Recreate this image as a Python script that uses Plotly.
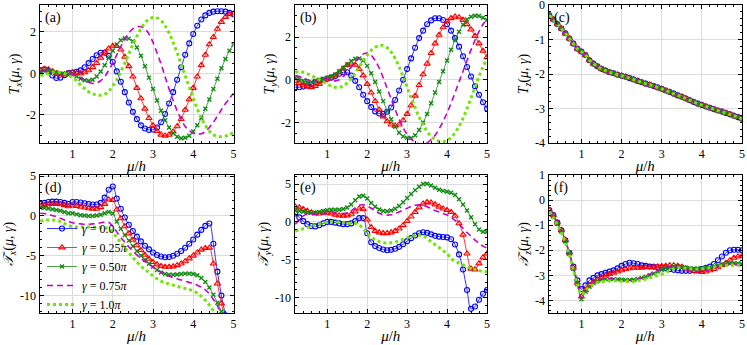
import plotly.graph_objects as go
from plotly.subplots import make_subplots

# mu/h sample points
mu = [0.2, 0.3, 0.4, 0.5, 0.6, 0.7, 0.8, 0.9, 1.0, 1.1, 1.2, 1.3, 1.4, 1.5, 1.6, 1.7,
      1.8, 1.9, 2.0, 2.1, 2.2, 2.3, 2.4, 2.5, 2.6, 2.7, 2.8, 2.9, 3.0, 3.1, 3.2, 3.3,
      3.4, 3.5, 3.6, 3.7, 3.8, 3.9, 4.0, 4.1, 4.2, 4.3, 4.4, 4.5, 4.6, 4.7, 4.8, 4.9, 5.0]

gamma_labels = ["<i>γ</i> = 0.0", "<i>γ</i> = 0.25<i>π</i>", "<i>γ</i> = 0.50<i>π</i>",
                "<i>γ</i> = 0.75<i>π</i>", "<i>γ</i> = 1.0<i>π</i>"]

# (a) T_x
tx_a = [
    [0.15, 0.2, 0.12, -0.1, -0.22, -0.2, -0.08, 0.02, 0.05, 0.08, 0.15, 0.3, 0.5, 0.7, 0.88, 1.0,
     1.0, 0.85, 0.55, 0.1, -0.4, -0.9, -1.4, -1.85, -2.2, -2.5, -2.65, -2.72, -2.7, -2.6, -2.35, -1.95,
     -1.45, -0.9, -0.3, 0.3, 0.9, 1.45, 1.9, 2.3, 2.6, 2.8, 2.92, 2.98, 3.0, 3.0, 2.98, 2.92, 2.85],
    [0.15, 0.22, 0.2, 0.1, 0.0, -0.05, -0.05, 0.0, 0.05, 0.02, 0.0, 0.05, 0.15, 0.3, 0.5, 0.75,
     1.0, 1.2, 1.33, 1.32, 1.15, 0.8, 0.35, -0.15, -0.7, -1.2, -1.7, -2.15, -2.5, -2.78, -2.95, -3.0,
     -2.95, -2.8, -2.55, -2.2, -1.75, -1.25, -0.7, -0.15, 0.4, 0.9, 1.4, 1.75, 2.15, 2.48, 2.72, 2.85, 2.9],
    [0.1, 0.15, 0.15, 0.1, 0.05, 0.0, -0.02, -0.05, -0.05, -0.15, -0.25, -0.33, -0.35, -0.3, -0.15, 0.1,
     0.4, 0.75, 1.1, 1.4, 1.6, 1.7, 1.68, 1.55, 1.25, 0.85, 0.35, -0.2, -0.75, -1.3, -1.8, -2.25,
     -2.6, -2.88, -3.05, -3.12, -3.1, -3.0, -2.8, -2.5, -2.15, -1.7, -1.25, -0.75, -0.25, 0.25, 0.7, 1.1, 1.4],
    [0.1, 0.12, 0.1, 0.05, 0.0, 0.0, -0.02, -0.05, -0.05, -0.1, -0.2, -0.32, -0.42, -0.48, -0.45, -0.35,
     -0.15, 0.15, 0.5, 0.9, 1.3, 1.65, 1.95, 2.15, 2.25, 2.25, 2.15, 1.9, 1.5, 1.0, 0.45, -0.15,
     -0.75, -1.3, -1.8, -2.2, -2.55, -2.75, -2.88, -2.92, -2.9, -2.8, -2.6, -2.35, -2.05, -1.75, -1.45, -1.2, -0.95],
    [-0.1, -0.05, 0.0, 0.05, 0.08, 0.05, 0.0, -0.1, -0.2, -0.35, -0.55, -0.72, -0.88, -0.98, -1.04, -1.05,
     -1.0, -0.85, -0.6, -0.3, 0.1, 0.5, 0.95, 1.4, 1.8, 2.15, 2.45, 2.62, 2.7, 2.68, 2.55, 2.3,
     1.95, 1.5, 1.0, 0.45, -0.1, -0.65, -1.2, -1.7, -2.15, -2.5, -2.78, -2.95, -3.03, -3.05, -3.02, -2.95, -2.85],
]

# (b) T_y
ty_b = [
    [-0.35, -0.35, -0.32, -0.27, -0.2, -0.12, -0.05, 0.0, 0.05, 0.1, 0.18, 0.28, 0.35, 0.35, 0.2, -0.05,
     -0.35, -0.7, -1.0, -1.28, -1.48, -1.58, -1.6, -1.5, -1.3, -0.95, -0.5, 0.0, 0.5, 1.0, 1.5, 1.95,
     2.3, 2.6, 2.78, 2.88, 2.88, 2.8, 2.6, 2.3, 1.95, 1.55, 1.1, 0.6, 0.15, -0.3, -0.7, -1.05, -1.35],
    [-0.05, -0.15, -0.25, -0.32, -0.35, -0.3, -0.2, -0.05, 0.05, 0.1, 0.2, 0.35, 0.52, 0.68, 0.75, 0.7,
     0.5, 0.2, -0.2, -0.6, -1.0, -1.4, -1.72, -1.95, -2.1, -2.15, -2.1, -1.9, -1.6, -1.2, -0.75, -0.25,
     0.25, 0.75, 1.25, 1.7, 2.1, 2.45, 2.72, 2.88, 2.95, 2.92, 2.8, 2.6, 2.35, 2.05, 1.7, 1.35, 1.05],
    [0.1, 0.05, -0.05, -0.1, -0.1, -0.05, 0.0, 0.05, 0.1, 0.15, 0.25, 0.4, 0.55, 0.72, 0.88, 0.98,
     1.0, 0.9, 0.65, 0.3, -0.1, -0.55, -1.0, -1.45, -1.85, -2.2, -2.48, -2.65, -2.72, -2.72, -2.6, -2.35,
     -2.0, -1.6, -1.1, -0.6, -0.1, 0.4, 0.9, 1.4, 1.85, 2.25, 2.58, 2.82, 2.95, 3.0, 2.98, 2.9, 2.8],
    [0.2, 0.15, 0.08, 0.0, -0.05, -0.05, 0.0, 0.05, 0.05, 0.0, -0.05, 0.0, 0.15, 0.35, 0.6, 0.85,
     1.05, 1.2, 1.25, 1.15, 0.9, 0.55, 0.1, -0.4, -0.9, -1.4, -1.85, -2.25, -2.55, -2.78, -2.92, -3.0,
     -3.0, -2.95, -2.8, -2.6, -2.3, -1.95, -1.55, -1.1, -0.6, -0.1, 0.4, 0.9, 1.4, 1.85, 2.25, 2.6, 2.85],
    [0.35, 0.38, 0.35, 0.28, 0.2, 0.1, 0.0, -0.1, -0.2, -0.3, -0.35, -0.35, -0.3, -0.15, 0.05, 0.3,
     0.6, 0.9, 1.15, 1.38, 1.52, 1.6, 1.6, 1.5, 1.3, 1.0, 0.6, 0.15, -0.35, -0.85, -1.3, -1.75,
     -2.1, -2.42, -2.65, -2.8, -2.88, -2.9, -2.85, -2.7, -2.48, -2.18, -1.8, -1.35, -0.85, -0.35, 0.15, 0.6, 1.0],
]

# (c) T_z, the five curves coincide
tz_c = [-0.3, -0.42, -0.55, -0.68, -0.82, -0.97, -1.12, -1.27, -1.35, -1.45, -1.6, -1.7, -1.78, -1.85,
        -1.9, -1.95, -1.98, -2.02, -2.05, -2.08, -2.12, -2.16, -2.2, -2.24, -2.28, -2.31, -2.35, -2.39,
        -2.43, -2.48, -2.52, -2.57, -2.62, -2.66, -2.71, -2.76, -2.81, -2.86, -2.9, -2.94, -2.98, -3.02,
        -3.06, -3.09, -3.13, -3.17, -3.21, -3.25, -3.3]

# (d) calligraphic T_x
tx_d = [
    [1.5, 1.65, 1.75, 1.8, 1.8, 1.75, 1.65, 1.5, 1.75, 1.75, 1.7, 1.6, 1.5, 1.45, 1.45, 1.65,
     2.3, 3.3, 3.7, 2.2, 0.9, -0.2, -1.1, -1.9, -2.6, -3.2, -3.75, -4.2, -4.6, -4.9, -5.1, -5.2,
     -5.15, -5.0, -4.75, -4.4, -4.0, -3.5, -2.95, -2.35, -1.75, -1.25, -0.95, -3.5, -7.0, -10.0, -12.5, -15.0, -18.0],
    [1.2, 1.35, 1.45, 1.5, 1.5, 1.45, 1.35, 1.2, 1.3, 1.25, 1.15, 1.05, 0.95, 0.9, 0.9, 1.1,
     1.5, 2.05, 2.0, 0.8, -0.3, -1.3, -2.2, -3.0, -3.7, -4.3, -4.9, -5.4, -5.8, -6.1, -6.3, -6.4,
     -6.4, -6.35, -6.2, -6.0, -5.7, -5.35, -5.0, -4.6, -4.25, -4.05, -4.0, -6.0, -8.5, -11.0, -13.5, -16.0, -18.0],
    [1.05, 1.0, 0.95, 0.85, 0.75, 0.65, 0.5, 0.35, 0.35, 0.2, 0.1, 0.05, 0.0, 0.0, 0.05, 0.15,
     0.35, 0.5, 0.3, -0.7, -1.6, -2.4, -3.1, -3.8, -4.4, -5.0, -5.5, -6.0, -6.4, -6.8, -7.1, -7.3,
     -7.4, -7.4, -7.35, -7.3, -7.25, -7.25, -7.3, -7.45, -7.8, -8.3, -9.0, -9.9, -10.9, -12.0, -13.2, -14.5, -16.0],
    [0.35, 0.3, 0.2, 0.05, -0.1, -0.3, -0.5, -0.7, -0.85, -0.95, -1.0, -1.05, -1.05, -1.0, -0.95, -0.85,
     -0.75, -0.8, -1.3, -2.0, -2.7, -3.3, -3.9, -4.4, -4.9, -5.35, -5.75, -6.1, -6.45, -6.75, -7.05, -7.3,
     -7.55, -7.75, -7.9, -8.05, -8.2, -8.35, -8.5, -8.7, -8.95, -9.3, -9.8, -10.5, -11.3, -12.2, -13.2, -14.3, -15.5],
    [-0.65, -0.55, -0.5, -0.5, -0.55, -0.7, -0.95, -1.2, -1.35, -1.4, -1.4, -1.4, -1.4, -1.4, -1.4, -1.45,
     -1.5, -1.6, -2.1, -2.7, -3.35, -4.0, -4.6, -5.2, -5.8, -6.3, -6.75, -7.1, -7.55, -7.9, -8.2, -8.4,
     -8.55, -8.7, -8.85, -9.0, -9.1, -9.25, -9.4, -9.7, -10.1, -10.6, -11.2, -11.9, -12.7, -13.5, -14.4, -15.3, -16.2],
]

# (e) calligraphic T_y
ty_e = [
    [1.1, 0.6, 0.1, -0.3, -0.55, -0.6, -0.45, -0.2, 0.0, 0.0, -0.1, -0.2, -0.3, -0.3, -0.2, 0.1,
     0.5, 0.5, -1.5, -2.7, -3.2, -3.45, -3.65, -3.75, -3.7, -3.55, -3.3, -2.95, -2.55, -2.15, -1.8, -1.5,
     -1.38, -1.45, -1.65, -1.85, -1.95, -2.0, -2.05, -2.3, -3.0, -4.3, -6.3, -9.0, -11.5, -11.2, -10.3, -9.5, -9.0],
    [2.0, 1.9, 1.7, 1.45, 1.25, 1.1, 1.1, 1.2, 1.2, 1.1, 0.95, 0.85, 0.8, 0.85, 1.0, 1.35,
     1.75, 1.7, 0.3, -0.7, -1.2, -1.4, -1.5, -1.5, -1.4, -1.2, -0.9, -0.45, 0.1, 0.7, 1.3, 1.9,
     2.4, 2.6, 2.55, 2.3, 2.0, 1.75, 1.55, 1.3, 0.8, -0.2, -1.7, -4.2, -6.2, -6.3, -5.5, -4.7, -4.2],
    [1.5, 1.45, 1.35, 1.25, 1.2, 1.2, 1.3, 1.45, 1.55, 1.6, 1.6, 1.6, 1.7, 1.9, 2.3, 2.85,
     3.35, 3.45, 3.1, 2.5, 2.0, 1.65, 1.45, 1.4, 1.5, 1.75, 2.1, 2.6, 3.15, 3.7, 4.2, 4.65,
     5.0, 5.05, 4.8, 4.5, 4.25, 4.1, 4.0, 3.85, 3.55, 3.0, 2.3, 1.5, 0.6, -0.3, -1.0, -1.3, -1.35],
    [-0.3, 0.3, 0.8, 1.0, 1.05, 1.0, 1.0, 1.1, 1.2, 1.2, 1.15, 1.1, 1.1, 1.2, 1.45, 1.85,
     2.2, 2.25, 2.1, 1.8, 1.45, 1.15, 0.95, 0.9, 0.95, 1.1, 1.3, 1.55, 1.8, 2.05, 2.2, 2.25,
     2.2, 2.0, 1.75, 1.5, 1.3, 1.1, 0.9, 0.6, 0.2, -0.3, -0.85, -1.4, -1.9, -2.4, -2.85, -3.2, -3.45],
    [-1.2, -1.05, -0.9, -0.75, -0.6, -0.45, -0.3, -0.15, -0.05, 0.0, 0.0, -0.05, -0.1, -0.15, -0.2, -0.2,
     -0.4, -0.9, -1.5, -2.0, -2.35, -2.6, -2.75, -2.8, -2.75, -2.65, -2.5, -2.3, -2.1, -1.95, -1.8, -1.75,
     -1.8, -2.2, -2.6, -3.0, -3.4, -3.8, -4.2, -4.85, -5.2, -5.45, -5.7, -5.95, -6.15, -6.3, -6.45, -6.55, -6.6],
]

# (f) calligraphic T_z
tz_f = [
    [-0.4, -0.6, -0.9, -1.2, -1.6, -2.1, -2.65, -3.2, -3.55, -3.4, -3.2, -3.1, -3.0, -2.95, -2.9, -2.85,
     -2.8, -2.72, -2.62, -2.55, -2.5, -2.52, -2.55, -2.6, -2.62, -2.65, -2.66, -2.68, -2.7, -2.72, -2.75, -2.78,
     -2.8, -2.82, -2.82, -2.82, -2.8, -2.78, -2.75, -2.7, -2.65, -2.55, -2.4, -2.25, -2.1, -2.0, -1.98, -1.98, -2.0],
    [-0.4, -0.6, -0.9, -1.2, -1.6, -2.1, -2.7, -3.3, -3.85, -3.6, -3.4, -3.25, -3.15, -3.08, -3.0, -2.95,
     -2.9, -2.85, -2.8, -2.75, -2.72, -2.7, -2.7, -2.7, -2.68, -2.67, -2.66, -2.65, -2.63, -2.62, -2.6, -2.6,
     -2.62, -2.66, -2.72, -2.78, -2.82, -2.85, -2.87, -2.85, -2.8, -2.75, -2.68, -2.6, -2.5, -2.4, -2.3, -2.25, -2.22],
    [-0.45, -0.65, -0.95, -1.25, -1.65, -2.15, -2.75, -3.35, -3.95, -3.65, -3.45, -3.3, -3.22, -3.18, -3.15, -3.15,
     -3.15, -3.16, -3.17, -3.18, -3.18, -3.17, -3.14, -3.1, -3.05, -3.0, -2.93, -2.85, -2.78, -2.72, -2.67, -2.65,
     -2.65, -2.67, -2.7, -2.72, -2.73, -2.73, -2.72, -2.7, -2.68, -2.65, -2.62, -2.58, -2.55, -2.53, -2.52, -2.53, -2.55],
    [-0.4, -0.62, -0.92, -1.22, -1.62, -2.12, -2.72, -3.32, -3.9, -3.6, -3.4, -3.27, -3.2, -3.15, -3.13, -3.13,
     -3.14, -3.16, -3.18, -3.2, -3.2, -3.18, -3.15, -3.1, -3.03, -2.95, -2.87, -2.8, -2.74, -2.69, -2.66, -2.65,
     -2.66, -2.7, -2.75, -2.8, -2.83, -2.84, -2.83, -2.8, -2.76, -2.72, -2.67, -2.62, -2.58, -2.55, -2.55, -2.56, -2.58],
    [-0.45, -0.7, -1.0, -1.3, -1.7, -2.2, -2.8, -3.35, -3.75, -3.6, -3.45, -3.35, -3.28, -3.25, -3.23, -3.22,
     -3.22, -3.22, -3.23, -3.24, -3.25, -3.24, -3.22, -3.19, -3.15, -3.1, -3.05, -3.0, -2.95, -2.88, -2.8, -2.73,
     -2.7, -2.7, -2.72, -2.74, -2.75, -2.75, -2.74, -2.72, -2.7, -2.67, -2.64, -2.62, -2.6, -2.6, -2.6, -2.6, -2.6],
]

panels = [
    ("(a)", tx_a, "<i>T<sub>x</sub></i>(<i>μ</i>, <i>γ</i>)", [-3.35, 3.3], [-2, 0, 2], 0.5),
    ("(b)", ty_b, "<i>T<sub>y</sub></i>(<i>μ</i>, <i>γ</i>)", [-2.96, 3.5], [-2, 0, 2], 0.5),
    ("(c)", [tz_c] * 5, "<i>T<sub>z</sub></i>(<i>μ</i>, <i>γ</i>)", [-4, 0], [-4, -3, -2, -1, 0], 0.2),
    ("(d)", tx_d, "<i>𝒯<sub>x</sub></i>(<i>μ</i>, <i>γ</i>)", [-12.2, 5.15], [-10, -5, 0, 5], 1),
    ("(e)", ty_e, "<i>𝒯<sub>y</sub></i>(<i>μ</i>, <i>γ</i>)", [-12.05, 6.2], [-10, -5, 0, 5], 1),
    ("(f)", tz_f, "<i>𝒯<sub>z</sub></i>(<i>μ</i>, <i>γ</i>)", [-4.5, 1.0], [-4, -3, -2, -1, 0, 1], 0.2),
]

styles = [
    dict(mode="lines+markers", line=dict(color="#0000ff", width=0.8),
         marker=dict(symbol="circle-open", size=5, color="#0000ff", line=dict(width=1.1))),
    dict(mode="lines+markers", line=dict(color="#ff0000", width=0.8),
         marker=dict(symbol="triangle-up-open", size=5.5, color="#ff0000", line=dict(width=1.1))),
    dict(mode="lines+markers", line=dict(color="#1a8c1a", width=0.8),
         marker=dict(symbol="x-thin-open", size=4, color="#138a13", line=dict(width=1.4))),
    dict(mode="lines", line=dict(color="#c800c8", width=1.6, dash="6px,4px")),
    dict(mode="lines", line=dict(color="#6ee600", width=3, dash="dot")),
]

W, H = 747, 345
col_px = [(39.5, 233.5), (294.5, 487), (548.5, 742)]
row_px = [(5, 143), (175, 313)]
font = "Liberation Serif, Times New Roman, serif"

fig = make_subplots(rows=2, cols=3)

for k, (tag, series, ytitle, yrange, yticks, yminor) in enumerate(panels):
    r, c = k // 3 + 1, k % 3 + 1
    for j, ys in enumerate(series):
        fig.add_trace(go.Scatter(x=mu, y=ys, name=gamma_labels[j], showlegend=(k == 3),
                                 line_shape="spline", **styles[j]), row=r, col=c)
    x0, x1 = col_px[c - 1]
    y0, y1 = row_px[r - 1]
    fig.update_xaxes(domain=[x0 / W, x1 / W], range=[0.18, 5.0],
                     tickvals=[1, 2, 3, 4, 5], ticktext=["1", "2", "3", "4", "5"],
                     minor=dict(ticks="inside", ticklen=2, dtick=0.2, tick0=0, showgrid=False),
                     title=dict(text="<i>μ</i>/<i>h</i>", standoff=0, font=dict(size=15, family=font)),
                     row=r, col=c)
    fig.update_yaxes(domain=[1 - y1 / H, 1 - y0 / H], range=yrange,
                     tickvals=yticks, ticktext=[str(v) for v in yticks],
                     minor=dict(ticks="inside", ticklen=2, dtick=yminor, tick0=0, showgrid=False),
                     title=dict(text=ytitle, standoff=3, font=dict(size=14, family=font)),
                     row=r, col=c)
    fig.add_annotation(text=tag, xref="paper", yref="paper", x=(x0 + 3) / W, y=1 - (y0 + 3) / H,
                       xanchor="left", yanchor="top", showarrow=False, font=dict(size=14, family=font))

fig.update_xaxes(showline=True, linecolor="black", linewidth=1, mirror="ticks", ticks="inside",
                 ticklen=4, tickcolor="black", showgrid=True, gridcolor="#dcdcdc", gridwidth=1,
                 zeroline=False, tickfont=dict(size=12, family=font), automargin=False,
                 ticklabeloverflow="allow")
fig.update_yaxes(showline=True, linecolor="black", linewidth=1, mirror="ticks", ticks="inside",
                 ticklen=4, tickcolor="black", showgrid=True, gridcolor="#dcdcdc", gridwidth=1,
                 zeroline=False, tickfont=dict(size=12, family=font), automargin=False,
                 ticklabeloverflow="allow")

fig.update_layout(
    width=W, height=H,
    margin=dict(l=0, r=0, t=0, b=0),
    paper_bgcolor="white", plot_bgcolor="white",
    font=dict(family=font, color="black", size=12),
    legend=dict(x=42 / W, y=1 - 214 / H, xanchor="left", yanchor="top", bgcolor="rgba(0,0,0,0)",
                font=dict(size=12, family=font), itemwidth=30, tracegroupgap=0),
)

# the page body has a default 8px margin; drop it so the figure sits at the window corner
fig.write_html("out.html", config={"displayModeBar": False},
               post_script="document.body.style.margin='0';")
